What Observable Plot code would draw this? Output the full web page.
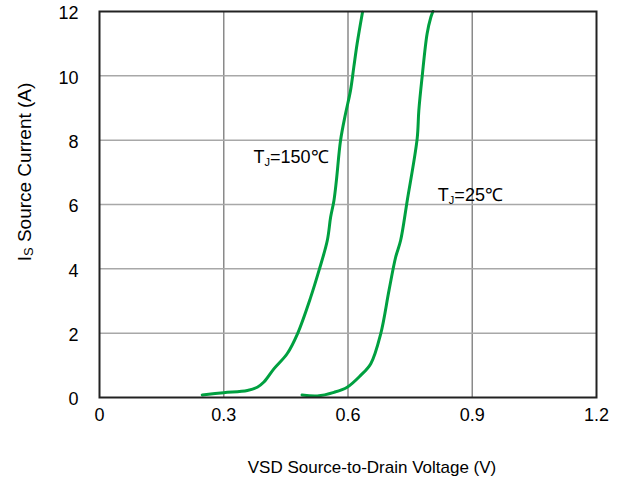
<!DOCTYPE html>
<html><head><meta charset="utf-8">
<script src="https://cdn.jsdelivr.net/npm/d3@7"></script>
<script src="https://cdn.jsdelivr.net/npm/@observablehq/plot@0.6"></script>
<style>body{margin:0;background:#fff}</style>
</head><body><div id="chart"></div>
<script>
// Source current vs source-to-drain voltage
const v150 = [0.248, 0.300, 0.357, 0.381, 0.397, 0.421, 0.453, 0.478, 0.510, 0.530, 0.550, 0.558, 0.566, 0.572, 0.582, 0.594, 0.606, 0.614, 0.622, 0.635];
const i150 = [0.08, 0.15, 0.22, 0.32, 0.48, 0.89, 1.36, 1.98, 3.12, 3.95, 4.88, 5.60, 6.12, 6.75, 7.99, 8.82, 9.54, 10.27, 11.00, 11.98];
const v25 = [0.489, 0.526, 0.566, 0.598, 0.630, 0.655, 0.679, 0.699, 0.715, 0.727, 0.743, 0.767, 0.771, 0.779, 0.791, 0.800, 0.805];
const i25 = [0.08, 0.05, 0.16, 0.32, 0.68, 1.05, 1.98, 3.33, 4.36, 4.88, 6.12, 8.05, 8.92, 9.97, 11.31, 11.82, 12.0];
const xTicks = [0, 0.3, 0.6, 0.9, 1.2];
const yTicks = [0, 2, 4, 6, 8, 10, 12];
const seriesNames = ["150", "25"];
const annotations = [
  {x: 0.372, y: 7.46, t: "TJ=150℃"},
  {x: 0.817, y: 6.28, t: "TJ=25℃"}
];
const xLabel = "VSD Source-to-Drain Voltage (V)";

const rows = [
  ...v150.map((v, k) => ({v, I: i150[k], s: seriesNames[0]})),
  ...v25.map((v, k) => ({v, I: i25[k], s: seriesNames[1]}))
];

const font = "Liberation Sans, Arial, sans-serif";
const chart = Plot.plot({
  width: 625, height: 480,
  marginLeft: 99, marginRight: 29, marginTop: 11, marginBottom: 83,
  style: {fontFamily: font, fontSize: "18px", color: "#000", background: "#fff"},
  x: {domain: [0, 1.2]},
  y: {domain: [0, 12]},
  marks: [
    Plot.gridX([0.3, 0.6, 0.9], {stroke: "#8a8a8a", strokeOpacity: 1, strokeWidth: 1.5}),
    Plot.gridY([2, 4, 6, 8, 10], {stroke: "#a8a8a8", strokeOpacity: 1, strokeWidth: 1.5}),
    Plot.line(rows, {x: "v", y: "I", z: "s", stroke: "#00a040", strokeWidth: 3, curve: "catmull-rom"}),
    Plot.frame({stroke: "#222", strokeWidth: 2}),
    Plot.axisX(xTicks, {tickSize: 0, tickPadding: 11, label: null, tickFormat: d => String(d), fontSize: 18}),
    Plot.axisY(yTicks, {tickSize: 0, tickPadding: 21, label: null, tickFormat: d => String(d), fontSize: 18, dy: 2}),
    Plot.text(annotations, {x: "x", y: "y", text: "t", textAnchor: "start", fontSize: 18, fill: "#000"})
  ]
});
document.getElementById("chart").appendChild(chart);

const svg = d3.select(chart.tagName === "svg" ? chart : chart.querySelector("svg"));
// subscripts in annotations
svg.selectAll('g[aria-label="text"] text').each(function() {
  const t = this.textContent;
  if (t.startsWith("TJ")) {
    const el = d3.select(this);
    el.text("");
    el.append("tspan").text("T");
    el.append("tspan").attr("font-size", "11px").attr("dy", "3").text("J");
    el.append("tspan").attr("dy", "-3").text(t.slice(2));
  }
});
// y label with subscript
const yl = svg.append("text")
  .attr("transform", "translate(24,172) rotate(-90)")
  .attr("text-anchor", "middle")
  .attr("dominant-baseline", "central")
  .attr("font-family", font).attr("font-size", 19).attr("fill", "#000");
yl.append("tspan").text("I");
yl.append("tspan").attr("font-size", 13).attr("dy", 4).text("S");
yl.append("tspan").attr("dy", -4).text(" Source Current (A)");
// x label
svg.append("text")
  .attr("x", 372).attr("y", 467)
  .attr("text-anchor", "middle")
  .attr("dominant-baseline", "central")
  .attr("font-family", font).attr("font-size", 17).attr("fill", "#000")
  .text(xLabel);
</script>
</body></html>
